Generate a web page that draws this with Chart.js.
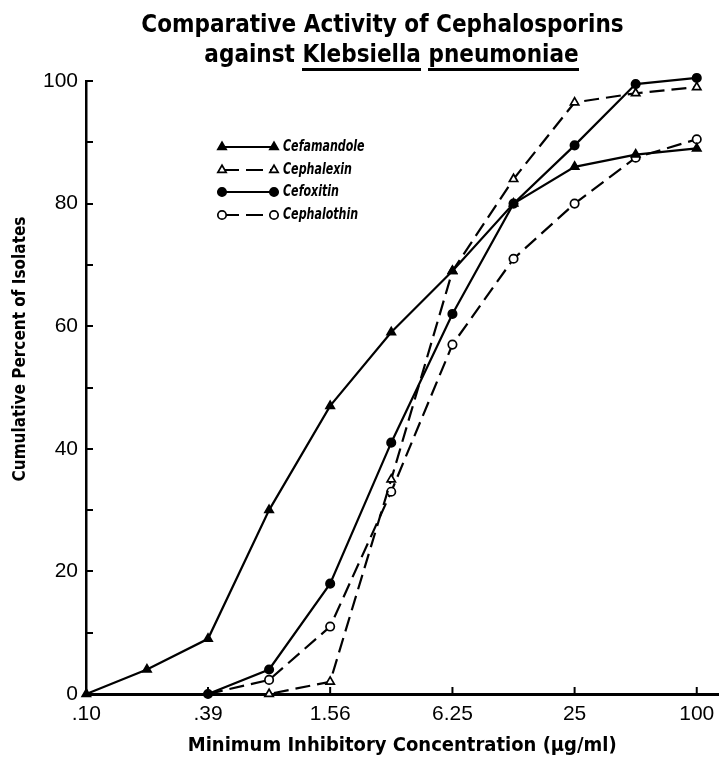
<!DOCTYPE html>
<html>
<head>
<meta charset="utf-8">
<script src="https://cdn.jsdelivr.net/npm/chart.js@4"></script>
<style>
html,body{margin:0;padding:0;background:#fff;}
#wrap{position:relative;width:725px;height:762px;}
#title{position:absolute;left:0;top:9px;width:725px;font-family:'Liberation Sans Narrow','DejaVu Sans Condensed',sans-serif;font-weight:bold;font-size:24px;line-height:30px;color:#000;}
#title .l1{text-align:center;padding-left:40px;}
#title .l2{text-align:center;padding-left:58px;}
#title .u{border-bottom:3px solid #000;}
</style>
</head>
<body>
<div id="wrap">
<canvas id="c" width="725" height="762"></canvas>
<div id="title"><div class="l1">Comparative Activity of Cephalosporins</div><div class="l2">against <span class="u">Klebsiella</span> <span class="u">pneumoniae</span></div></div>
</div>
<script>
// Concentrations (µg/ml), two-fold dilutions
const concentrations = [0.098, 0.195, 0.39, 0.78, 1.56, 3.12, 6.25, 12.5, 25, 50, 100];
// Cumulative percent of isolates inhibited
const cefamandole = [0, 4, 9, 30, 47, 59, 69, 80, 86, 88, 89];
const cephalexin  = [null, null, 0, 0, 2, 35, 69, 84, 96.5, 98, 99];
const cefoxitin   = [null, null, 0, 4, 18, 41, 62, 80, 89.5, 99.5, 100.5];
const cephalothin = [null, null, 0, 2.3, 11, 33, 57, 71, 80, 87.5, 90.5];
// Axis tick values and labels
const xTickValues = [0.098, 0.39, 1.56, 6.25, 25, 100];
const xTickLabels = ['.10', '.39', '1.56', '6.25', '25', '100'];
const yTickValues = [0, 20, 40, 60, 80, 100];
const yMinorTicks = [10, 20, 30, 40, 50, 60, 70, 80, 90, 100];
const seriesNames = ['Cefamandole', 'Cephalexin', 'Cefoxitin', 'Cephalothin'];
const yTitle = 'Cumulative Percent of Isolates';

const toPoints = arr => concentrations.map((c, i) => ({x: c, y: arr[i]})).filter(p => p.y !== null);

const styles = [
  {style: 'triangle', filled: true, dash: []},
  {style: 'triangle', filled: false, dash: [15, 7]},
  {style: 'circle', filled: true, dash: []},
  {style: 'circle', filled: false, dash: [15, 7]}
];
const seriesData = [cefamandole, cephalexin, cefoxitin, cephalothin];
const radiusOf = s => s.style === 'triangle' ? 4.8 : 4.2;

const datasets = seriesData.map((arr, k) => ({
  label: seriesNames[k],
  data: toPoints(arr),
  borderColor: '#000',
  borderWidth: 2.2,
  borderDash: styles[k].dash,
  backgroundColor: styles[k].filled ? '#000' : '#fff',
  pointBackgroundColor: styles[k].filled ? '#000' : '#fff',
  pointBorderColor: '#000',
  pointBorderWidth: 1.7,
  pointStyle: styles[k].style,
  pointRadius: ctx => (!styles[k].filled && ctx.raw && ctx.raw.x === 0.39) ? 0 : radiusOf(styles[k]),
  tension: 0,
  fill: false,
  clip: false
}));

const decor = {
  id: 'decor',
  afterDraw(chart) {
    const ctx = chart.ctx, xs = chart.scales.x, ys = chart.scales.y;
    ctx.save();
    ctx.strokeStyle = '#000';
    ctx.lineWidth = 2;
    ctx.setLineDash([]);
    yMinorTicks.forEach(v => {
      const py = Math.round(ys.getPixelForValue(v));
      ctx.beginPath(); ctx.moveTo(xs.left, py); ctx.lineTo(xs.left + 7, py); ctx.stroke();
    });
    xTickValues.slice(1).forEach(v => {
      const px = xs.getPixelForValue(v);
      ctx.beginPath(); ctx.moveTo(px, ys.bottom); ctx.lineTo(px, ys.bottom - 7); ctx.stroke();
    });
    // y axis title
    ctx.save();
    ctx.translate(21, 349);
    ctx.rotate(-Math.PI / 2);
    ctx.fillStyle = '#000';
    ctx.font = 'bold 17px "Liberation Sans Narrow", "DejaVu Sans Condensed", sans-serif';
    ctx.textAlign = 'center';
    ctx.textBaseline = 'middle';
    ctx.fillText(yTitle, 0, 0);
    ctx.restore();
    // legend
    const rows = [147, 170, 192, 215];
    const x1 = 222, x2 = 274, tx = 283;
    rows.forEach((ry, k) => {
      const s = styles[k];
      ctx.lineWidth = 2.2;
      ctx.strokeStyle = '#000';
      ctx.setLineDash(s.dash.length ? [17, 7] : []);
      ctx.beginPath(); ctx.moveTo(x1, ry); ctx.lineTo(x2, ry); ctx.stroke();
      ctx.setLineDash([]);
      ctx.lineWidth = 1.7;
      ctx.fillStyle = s.filled ? '#000' : '#fff';
      [x1, x2].forEach(px => Chart.helpers.drawPoint(ctx, {pointStyle: s.style, radius: radiusOf(s), rotation: 0, borderWidth: 1.7}, px, ry));
      ctx.save();
      ctx.fillStyle = '#000';
      ctx.font = 'italic bold 15px "Liberation Sans Narrow", "DejaVu Sans Condensed", sans-serif';
      ctx.textBaseline = 'middle';
      ctx.textAlign = 'left';
      ctx.translate(tx, ry);
      ctx.scale(0.82, 1);
      ctx.fillText(seriesNames[k], 0, 0);
      ctx.restore();
    });
    ctx.restore();
  }
};

new Chart(document.getElementById('c'), {
  type: 'line',
  data: {datasets},
  plugins: [decor],
  options: {
    responsive: false,
    animation: false,
    layout: {padding: {left: 0, right: 3, top: 81, bottom: 0}},
    plugins: {legend: {display: false}, tooltip: {enabled: false}, title: {display: false}},
    scales: {
      x: {
        type: 'logarithmic',
        min: 100 / 1024,
        max: 128,
        afterBuildTicks: s => { s.ticks = xTickValues.map(v => ({value: v})); },
        afterFit: s => { s.height = 68; },
        grid: {display: false, drawTicks: false},
        border: {display: true, color: '#000', width: 3},
        ticks: {
          autoSkip: false, maxRotation: 0, padding: 8,
          color: '#000',
          font: {family: '"Liberation Sans", Arial, sans-serif', size: 21},
          callback: (v, i) => xTickLabels[i]
        },
        title: {
          display: true,
          text: 'Minimum Inhibitory Concentration (\u03bcg/ml)',
          color: '#000',
          font: {family: '"Liberation Sans Narrow", "DejaVu Sans Condensed", sans-serif', size: 20, weight: 'bold'},
          padding: {top: 2, bottom: 4}
        }
      },
      y: {
        type: 'linear',
        min: 0,
        max: 100,
        afterBuildTicks: s => { s.ticks = yTickValues.map(v => ({value: v})); },
        afterFit: s => { s.width = 86; },
        grid: {display: false, drawTicks: false},
        border: {display: true, color: '#000', width: 2.5},
        ticks: {
          padding: 8,
          color: '#000',
          font: {family: '"Liberation Sans", Arial, sans-serif', size: 21}
        },
        title: {display: false}
      }
    }
  }
});
</script>
</body>
</html>
